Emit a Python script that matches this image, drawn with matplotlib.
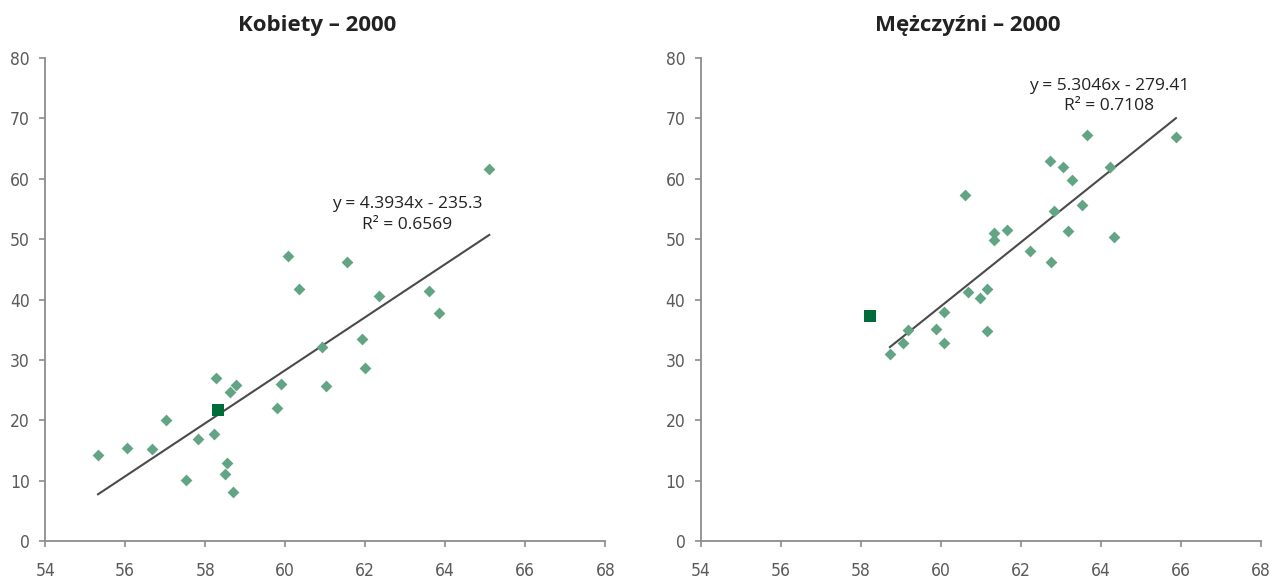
import matplotlib
matplotlib.use("Agg")
import matplotlib.pyplot as plt

# Kobiety - 2000
women_x = [55.32, 56.05, 56.67, 57.02, 57.52, 57.82, 58.23, 58.28, 58.50, 58.54,
           58.63, 58.70, 58.77, 59.80, 59.89, 60.07, 60.35, 60.92, 61.02, 61.55,
           61.93, 62.00, 62.35, 63.60, 63.85, 65.10]
women_y = [14.3, 15.35, 15.2, 20.0, 10.15, 16.9, 17.8, 27.0, 11.1, 12.9,
           24.7, 8.1, 25.8, 22.1, 26.0, 47.2, 41.8, 32.2, 25.7, 46.2,
           33.4, 28.6, 40.6, 41.4, 37.8, 61.7]
women_pl = (58.33, 21.7)
women_fit = (4.3934, -235.3, 0.6569)

# Mężczyźni - 2000
men_x = [58.73, 59.06, 59.18, 59.89, 60.07, 60.08, 60.60, 60.69, 60.97, 61.16,
         61.16, 61.34, 61.34, 61.66, 62.24, 62.74, 62.76, 62.84, 63.06, 63.18,
         63.28, 63.52, 63.66, 64.24, 64.33, 65.88]
men_y = [31.0, 32.8, 35.0, 35.2, 32.8, 37.9, 57.3, 41.3, 40.2, 41.7,
         34.8, 51.1, 49.8, 51.5, 48.1, 62.9, 46.2, 54.7, 61.9, 51.3,
         59.8, 55.6, 67.3, 62.0, 50.3, 66.9]
men_pl = (58.23, 37.25)
men_fit = (5.3046, -279.41, 0.7108)

x_ticks = [54, 56, 58, 60, 62, 64, 66, 68]
y_ticks = [0, 10, 20, 30, 40, 50, 60, 70, 80]

point_color = "#62a585"
pl_color = "#006b3a"
axis_color = "#8c8c8c"
label_color = "#5a5a5a"

plt.rcParams["font.family"] = ["DejaVu Sans"]
plt.rcParams["font.stretch"] = "condensed"

fig = plt.figure(figsize=(12.74, 5.79), dpi=100)


def draw_panel(ax, xs, ys, pl, fit, eq_pos):
    slope, intercept, r2 = fit
    ax.scatter(xs, ys, marker="D", s=36, color=point_color, linewidths=0, zorder=3)
    ax.scatter([pl[0]], [pl[1]], marker="s", s=70, color=pl_color, linewidths=0, zorder=4)
    x0, x1 = min(xs), max(xs)
    ax.plot([x0, x1], [slope * x0 + intercept, slope * x1 + intercept],
            color="#4a4a4a", lw=1.5, zorder=2)
    sign = "-" if intercept < 0 else "+"
    ax.text(eq_pos[0], eq_pos[1],
            f"y = {slope}x {sign} {abs(intercept)}\nR\u00b2 = {r2}",
            ha="center", va="center", fontsize=12.5, color="#222222",
            family=["Open Sans", "DejaVu Sans"], fontstretch="normal", linespacing=1.35)

    ax.set_xlim(54, 68)
    ax.set_ylim(0, 80)
    ax.set_xticks(x_ticks)
    ax.set_yticks(y_ticks)
    for side in ("top", "right"):
        ax.spines[side].set_visible(False)
    for side in ("left", "bottom"):
        ax.spines[side].set_color(axis_color)
        ax.spines[side].set_linewidth(1.3)
    ax.tick_params(axis="both", direction="out", length=4, width=1.2,
                   color=axis_color, labelcolor=label_color, labelsize=12.5)
    ax.tick_params(axis="x", pad=11)
    ax.tick_params(axis="y", pad=7)


ax1 = fig.add_axes([0.0355, 0.0656, 0.4396, 0.834])
ax2 = fig.add_axes([0.5500, 0.0656, 0.4396, 0.834])

draw_panel(ax1, women_x, women_y, women_pl, women_fit, (63.04, 54.1))
draw_panel(ax2, men_x, men_y, men_pl, men_fit, (64.2, 73.7))

title_font = ["Open Sans", "DejaVu Sans"]
fig.text(317 / 1274, 1 - 25 / 579, "Kobiety \u2013 2000", ha="center", va="center",
         fontsize=16, fontweight="bold", family=title_font, fontstretch="normal",
         color="#222222")
fig.text(968 / 1274, 1 - 25 / 579, "M\u0119\u017cczy\u017ani \u2013 2000", ha="center", va="center",
         fontsize=16, fontweight="bold", family=title_font, fontstretch="normal",
         color="#222222")

fig.savefig("out.png", dpi=100)
